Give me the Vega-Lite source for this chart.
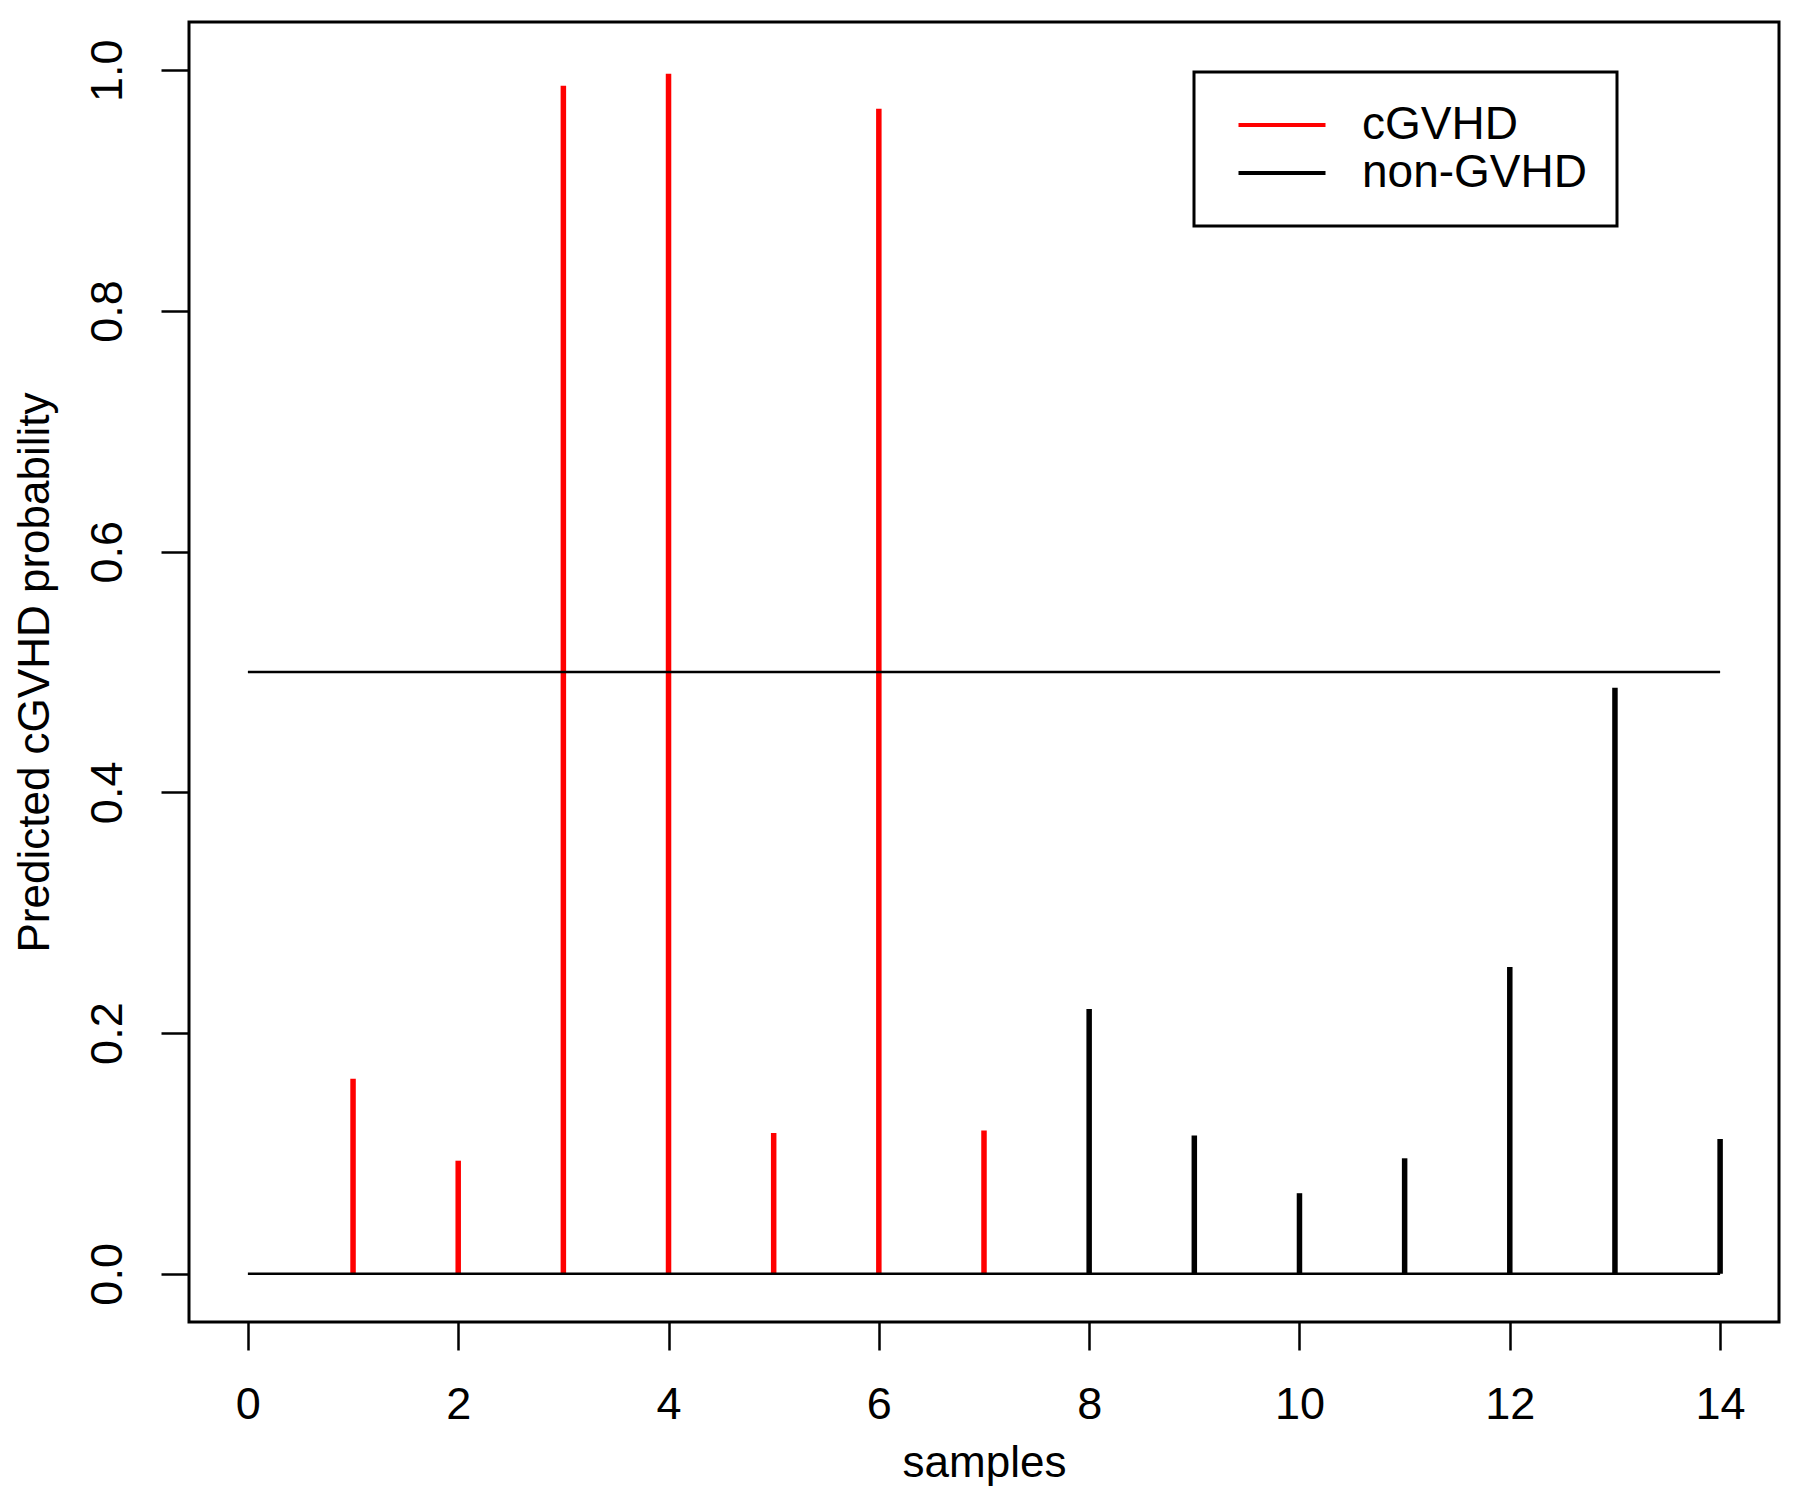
{
  "$schema": "https://vega.github.io/schema/vega-lite/v6.json",
  "width": 1590,
  "height": 1300,
  "autosize": {"type": "none"},
  "padding": {"left": 189, "top": 22, "right": 21, "bottom": 176},
  "background": "white",
  "config": {
    "font": "Liberation Sans",
    "view": {"stroke": "black", "strokeWidth": 3},
    "axis": {
      "grid": false,
      "domain": false,
      "tickColor": "black",
      "tickWidth": 2.5,
      "tickSize": 28,
      "labelFontSize": 45,
      "labelColor": "black",
      "titleFontSize": 44,
      "titleColor": "black",
      "titleFontWeight": "normal"
    }
  },
  "datasets": {
    "bars": [
      {"sample": 1, "prob": 0.162, "group": "cGVHD"},
      {"sample": 2, "prob": 0.094, "group": "cGVHD"},
      {"sample": 3, "prob": 0.987, "group": "cGVHD"},
      {"sample": 4, "prob": 0.997, "group": "cGVHD"},
      {"sample": 5, "prob": 0.117, "group": "cGVHD"},
      {"sample": 6, "prob": 0.968, "group": "cGVHD"},
      {"sample": 7, "prob": 0.119, "group": "cGVHD"},
      {"sample": 8, "prob": 0.220, "group": "non-GVHD"},
      {"sample": 9, "prob": 0.115, "group": "non-GVHD"},
      {"sample": 10, "prob": 0.067, "group": "non-GVHD"},
      {"sample": 11, "prob": 0.096, "group": "non-GVHD"},
      {"sample": 12, "prob": 0.255, "group": "non-GVHD"},
      {"sample": 13, "prob": 0.487, "group": "non-GVHD"},
      {"sample": 14, "prob": 0.112, "group": "non-GVHD"}
    ],
    "lines": [
      {"x": 0, "x2": 14, "y": 0.0},
      {"x": 0, "x2": 14, "y": 0.5}
    ]
  },
  "layer": [
    {
      "data": {"name": "bars"},
      "mark": {"type": "rule", "strokeWidth": 5.5},
      "encoding": {
        "x": {
          "field": "sample", "type": "quantitative",
          "scale": {"domain": [-0.56, 14.56], "nice": false, "zero": false},
          "axis": {"title": "samples", "values": [0, 2, 4, 6, 8, 10, 12, 14], "format": "d", "labelPadding": 32, "titlePadding": 14}
        },
        "y": {
          "field": "prob", "type": "quantitative",
          "scale": {"domain": [-0.04, 1.04], "nice": false, "zero": false},
          "axis": {"title": "Predicted cGVHD probability", "values": [0, 0.2, 0.4, 0.6, 0.8, 1.0], "format": ".1f", "labelAngle": 270, "labelAlign": "center", "labelBaseline": "bottom", "labelPadding": 31, "titlePadding": 28}
        },
        "y2": {"datum": 0},
        "color": {
          "field": "group", "type": "nominal",
          "scale": {"domain": ["cGVHD", "non-GVHD"], "range": ["#ff0000", "#000000"]},
          "legend": {
            "title": null,
            "orient": "none",
            "legendX": 1005,
            "legendY": 50,
            "strokeColor": "black",
            "padding": 30,
            "labelFontSize": 46,
            "labelColor": "black",
            "labelLimit": 500,
            "symbolType": "M-3,0H3",
            "symbolSize": 841,
            "symbolStrokeWidth": 4,
            "symbolOffset": 35,
            "labelOffset": 57,
            "rowPadding": 2,
            "encode": {"legend": {"update": {"strokeWidth": {"value": 3}}}}
          }
        }
      }
    },
    {
      "data": {"name": "lines"},
      "mark": {"type": "rule", "color": "black", "strokeWidth": 2.5},
      "encoding": {
        "x": {"field": "x", "type": "quantitative"},
        "x2": {"field": "x2"},
        "y": {"field": "y", "type": "quantitative"}
      }
    }
  ]
}
